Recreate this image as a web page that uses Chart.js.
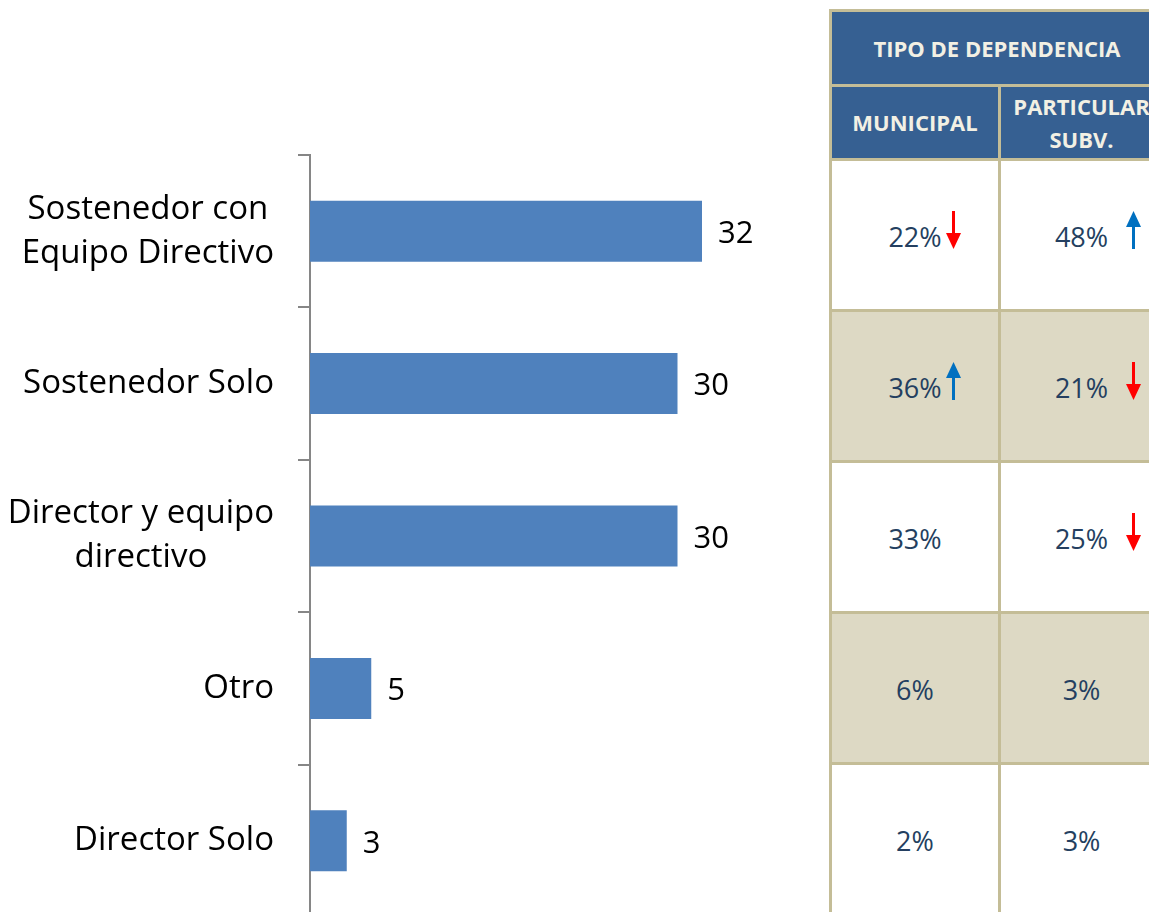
<!DOCTYPE html>
<html>
<head>
<meta charset="utf-8">
<script src="https://cdn.jsdelivr.net/npm/chart.js@4.4.0/dist/chart.umd.min.js"></script>
<style>
body{margin:0;width:1149px;height:912px;overflow:hidden;background:#fff;font-family:'Open Sans',sans-serif;}
#chartBox{position:absolute;left:0;top:0;width:820px;height:930px;}
#tabla{position:absolute;left:829px;top:9px;width:333px;border-collapse:collapse;table-layout:fixed;}
#tabla td,#tabla th{border:3px solid #C4BD97;text-align:center;padding:0;position:relative;overflow:hidden;white-space:nowrap;}
#tabla th{background:#366092;color:#F2F0E4;font-weight:700;font-size:22px;line-height:33px;}
#tabla td{font-size:27px;color:#243F60;padding-top:2px;}
#tabla tr.beige td{background:#DDD9C4;}
.arrow{position:absolute;width:15px;height:38px;}
</style>
</head>
<body>
<div id="chartBox"><canvas id="barChart"></canvas></div>
<table id="tabla">
  <colgroup><col style="width:169px"><col style="width:164px"></colgroup>
  <thead>
    <tr style="height:75px"><th colspan="2">TIPO DE DEPENDENCIA</th></tr>
    <tr style="height:74px"><th>MUNICIPAL</th><th>PARTICULAR<br>SUBV.</th></tr>
  </thead>
  <tbody id="tablaBody"></tbody>
</table>
<script>
const categories = [['Sostenedor con', 'Equipo Directivo'], 'Sostenedor Solo', ['Director y equipo', 'directivo'], 'Otro', 'Director Solo'];
const values = [32, 30, 30, 5, 3];
const municipal = ['22%', '36%', '33%', '6%', '2%'];
const particular = ['48%', '21%', '25%', '3%', '3%'];
const municipalTrend = ['down', 'up', '', '', ''];
const particularTrend = ['up', 'down', 'down', '', ''];

function arrowSvg(dir) {
    if (dir === 'down') {
        return '<svg class="arrow" viewBox="0 0 15 38"><line x1="7.5" y1="0" x2="7.5" y2="25" stroke="#FF0000" stroke-width="3"/><polygon points="0,22 15,22 7.5,38" fill="#FF0000"/></svg>';
    }
    return '<svg class="arrow" viewBox="0 0 15 38"><polygon points="7.5,0 0,16 15,16" fill="#0070C0"/><line x1="7.5" y1="13" x2="7.5" y2="38" stroke="#0070C0" stroke-width="3"/></svg>';
}

function cell(text, trend, arrowLeft) {
    let html = '<td>' + text;
    if (trend) {
        html += arrowSvg(trend).replace('class="arrow"', 'class="arrow" style="left:' + arrowLeft + 'px;top:50px"');
    }
    return html + '</td>';
}

let rows = '';
municipal.forEach((m, i) => {
    rows += '<tr style="height:151px"' + (i % 2 === 1 ? ' class="beige"' : '') + '>';
    rows += cell(m, municipalTrend[i], 114);
    rows += cell(particular[i], particularTrend[i], 125);
    rows += '</tr>';
});
document.getElementById('tablaBody').innerHTML = rows;

const labelFont = '33px "Open Sans"';
const valueFont = '31px "Open Sans"';

const labelsPlugin = {
    id: 'labelsPlugin',
    afterDraw(chart) {
        const ctx = chart.ctx;
        const yScale = chart.scales.y;
        const right = chart.chartArea.left - 36;
        ctx.save();
        ctx.font = labelFont;
        ctx.fillStyle = '#000';
        ctx.textBaseline = 'middle';
        ctx.textAlign = 'center';
        categories.forEach((cat, i) => {
            const lines = Array.isArray(cat) ? cat : [cat];
            const w = Math.max(...lines.map(l => ctx.measureText(l).width));
            const cx = right - w / 2;
            const y = yScale.getPixelForTick(i);
            lines.forEach((l, j) => {
                ctx.fillText(l, cx, y + (j - (lines.length - 1) / 2) * 44);
            });
        });
        ctx.font = valueFont;
        ctx.textAlign = 'left';
        chart.getDatasetMeta(0).data.forEach((bar, i) => {
            ctx.fillText(values[i], bar.x + 16, bar.y + 3);
        });
        ctx.restore();
    }
};

new Chart(document.getElementById('barChart'), {
    type: 'bar',
    data: {
        labels: categories,
        datasets: [{
            data: values,
            backgroundColor: '#4F81BD',
            borderWidth: 0,
            barPercentage: 0.4,
            categoryPercentage: 1
        }]
    },
    options: {
        indexAxis: 'y',
        responsive: true,
        maintainAspectRatio: false,
        animation: false,
        layout: {padding: {top: 155, bottom: 13, right: 20, left: 0}},
        plugins: {legend: {display: false}, tooltip: {enabled: false}},
        scales: {
            x: {display: false, min: 0, max: 40},
            y: {
                ticks: {display: false},
                grid: {drawOnChartArea: false, drawTicks: true, tickLength: 12, color: '#868686', lineWidth: 2},
                border: {display: true, color: '#868686', width: 2},
                afterFit(scale) { scale.width = 310; }
            }
        }
    },
    plugins: [labelsPlugin]
});
</script>
</body>
</html>
